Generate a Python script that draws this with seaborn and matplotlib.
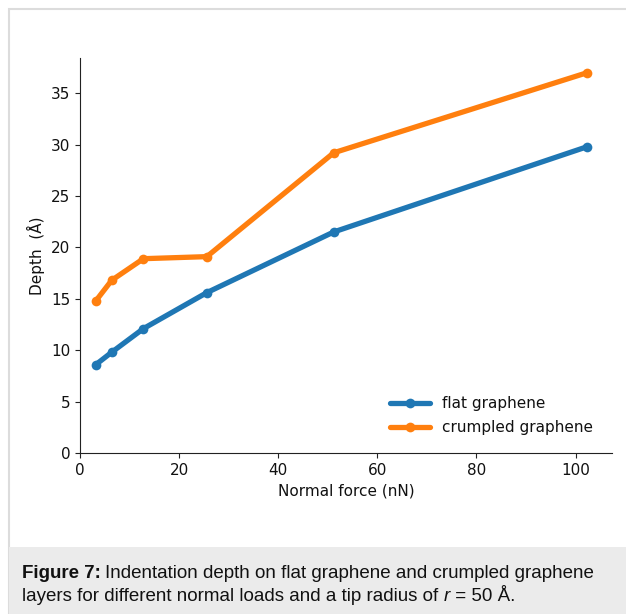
import numpy as np
import pandas as pd
import matplotlib
matplotlib.use("Agg")
import matplotlib.pyplot as plt
import seaborn as sns
from matplotlib.patches import Rectangle

# Data
force = [3.2, 6.4, 12.8, 25.6, 51.2, 102.4]
flat_depth = [8.6, 9.8, 12.1, 15.6, 21.5, 29.8]
crumpled_depth = [14.8, 16.8, 18.9, 19.1, 29.2, 37.0]
series_names = ["flat graphene", "crumpled graphene"]

df = pd.DataFrame({
    "force": force * 2,
    "depth": flat_depth + crumpled_depth,
    "series": [series_names[0]] * len(force) + [series_names[1]] * len(force),
})

sns.set_theme(style="ticks")
plt.rcParams['font.family'] = ['DejaVu Sans']
plt.rcParams['text.color'] = '#111111'
plt.rcParams['axes.labelcolor'] = '#111111'
plt.rcParams['xtick.color'] = '#111111'
plt.rcParams['ytick.color'] = '#111111'

W, H = 626, 614
fig = plt.figure(figsize=(W / 100, H / 100), dpi=100)

# outer frame
fig.patches.append(Rectangle((9 / W, -0.01), 1.0, 1 - 9 / H + 0.01, transform=fig.transFigure,
                             facecolor="white", edgecolor="#dcdcdc", linewidth=1.5, zorder=-3))
# caption box
fig.patches.append(Rectangle((9 / W, -0.01), 1.0, (H - 547) / H + 0.01, transform=fig.transFigure,
                             facecolor="#ebebeb", edgecolor="none", zorder=-2))

ax = fig.add_axes([80 / W, 1 - 453 / H, (612 - 80) / W, (453 - 58) / H])
ax.set_facecolor("none")
palette = {series_names[0]: "#1f77b4", series_names[1]: "#ff7f0e"}
sns.lineplot(data=df, x="force", y="depth", hue="series", hue_order=series_names,
             palette=palette, marker="o", markersize=7, markeredgewidth=0,
             linewidth=3.8, ax=ax)
ax.set_xlim(0, 107.36)
ax.set_ylim(0, 38.42)
ax.set_xticks([0, 20, 40, 60, 80, 100])
ax.set_yticks([0, 5, 10, 15, 20, 25, 30, 35])
ax.tick_params(labelsize=11, width=0.8, length=3.5, color="#222222")
ax.set_xlabel("Normal force (nN)", fontsize=11)
ax.set_ylabel("Depth  (Å)", fontsize=11)
sns.despine(ax=ax)
for s in ["left", "bottom"]:
    ax.spines[s].set_linewidth(0.8)
    ax.spines[s].set_color("#222222")
leg = ax.legend(loc="lower right", bbox_to_anchor=(0.99, 0.01), frameon=False, fontsize=11,
                handlelength=2.6, labelspacing=0.6)
for h in leg.get_lines():
    h.set_linewidth(3.8)

# caption
cap_font = ["Liberation Sans", "DejaVu Sans"]
fs = 13.5
fig.canvas.draw()
r = fig.canvas.get_renderer()

def put(x_px, y_px, s, **kw):
    t = fig.text(x_px / W, 1 - y_px / H, s, fontsize=fs, family=cap_font, va="baseline",
                 color="#111111", zorder=5, **kw)
    bb = t.get_window_extent(renderer=r)
    return x_px + bb.width

x1 = put(22, 578, "Figure 7:", weight="bold")
put(x1 + 4, 578, "Indentation depth on flat graphene and crumpled graphene")
x2 = put(22, 601, "layers for different normal loads and a tip radius of ")
x3 = put(x2, 601, "r", style="italic")
put(x3, 601, " = 50 Å.")

fig.savefig("out.png", dpi=100)
